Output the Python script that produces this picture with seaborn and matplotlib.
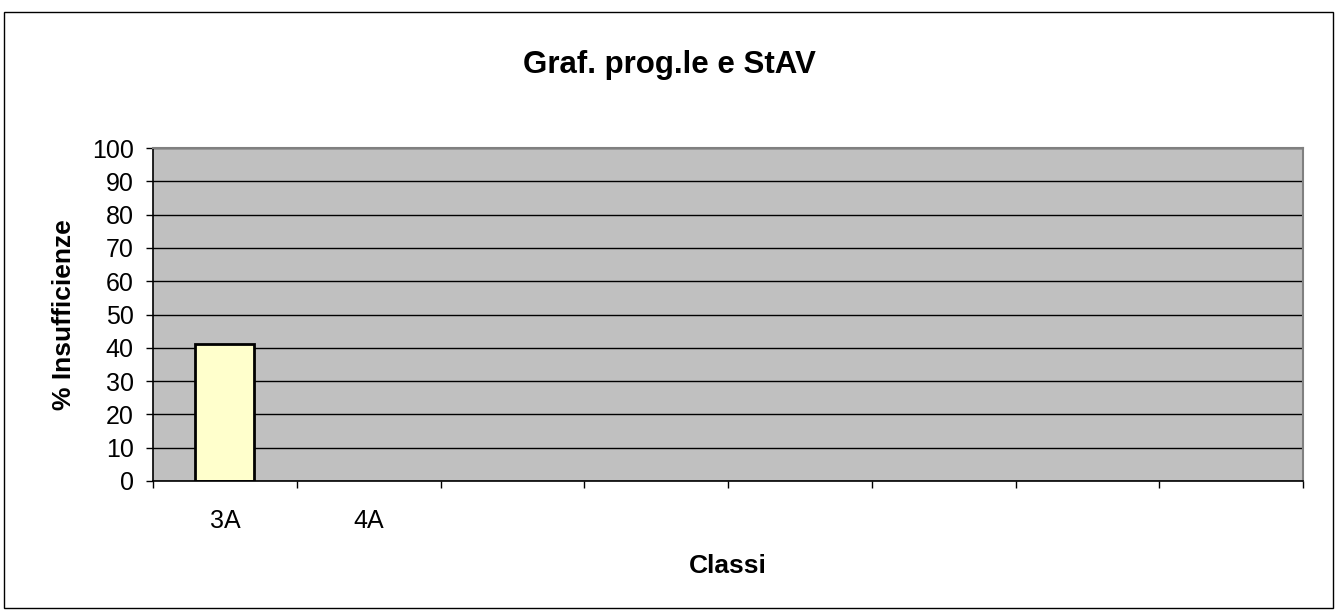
import numpy as np
import pandas as pd
import matplotlib
matplotlib.use("Agg")
import matplotlib.pyplot as plt
import seaborn as sns
from matplotlib.patches import Rectangle

classi = ["3A", "4A", "", "", "", "", "", ""]
insufficienze = [41, np.nan, np.nan, np.nan, np.nan, np.nan, np.nan, np.nan]
y_ticks = [0, 10, 20, 30, 40, 50, 60, 70, 80, 90, 100]

sns.set_style("white")
plt.rcParams['font.family'] = ['Liberation Sans', 'DejaVu Sans']
plt.rcParams['text.color'] = 'black'
plt.rcParams['axes.labelcolor'] = 'black'
plt.rcParams['xtick.color'] = 'black'
plt.rcParams['ytick.color'] = 'black'

# unique keys so empty categories are kept as slots
keys = [f"c{i}" for i in range(len(classi))]
df = pd.DataFrame({"key": keys, "val": insufficienze})

fig = plt.figure(figsize=(13.37, 6.15), dpi=100)
ax = fig.add_axes([153 / 1337, 1 - 481 / 615, 1150 / 1337, 333 / 615])
ax.set_facecolor("#c0c0c0")

sns.barplot(data=df, x="key", y="val", order=keys, color="#ffffcc",
            edgecolor="black", linewidth=2, width=0.41, saturation=1, ax=ax)

ax.set_xlim(-0.5, len(keys) - 0.5)
ax.set_ylim(0, 100)
ax.set_yticks(y_ticks)
ax.yaxis.grid(True, color="black", linewidth=1)
ax.set_axisbelow(True)

# Excel style: tick marks between categories, labels in the middle
ax.set_xticks(np.arange(-0.5, len(keys), 1.0))
ax.set_xticklabels([])
ax.set_xticks(np.arange(len(keys)), minor=True)
ax.set_xticklabels(classi, minor=True)
ax.tick_params(axis="x", which="minor", length=0, pad=20, labelsize=18)
ax.tick_params(axis="x", which="major", length=5, width=1, color="black", direction="out")
ax.tick_params(axis="y", length=5, width=1, color="black", direction="out", pad=9, labelsize=18)
ax.tick_params(bottom=True, left=True)

for s in ["top", "right"]:
    ax.spines[s].set_color("#808080")
    ax.spines[s].set_linewidth(1.5)
for s in ["left", "bottom"]:
    ax.spines[s].set_color("black")
    ax.spines[s].set_linewidth(1.2)

ax.set_xlabel("Classi", fontsize=19, fontweight="bold", labelpad=15)
ax.set_ylabel("% Insufficienze", fontsize=19, fontweight="bold", labelpad=11)
fig.text(669 / 1337, 1 - 73 / 615, "Graf. prog.le e StAV", ha="center", va="baseline",
         fontsize=22.5, fontweight="bold")

fig.patches.append(Rectangle((4 / 1337, 1 - 608 / 615), 1329 / 1337, 596 / 615,
                             transform=fig.transFigure, fill=False,
                             edgecolor="black", linewidth=1))

fig.savefig("out.png", dpi=100)
